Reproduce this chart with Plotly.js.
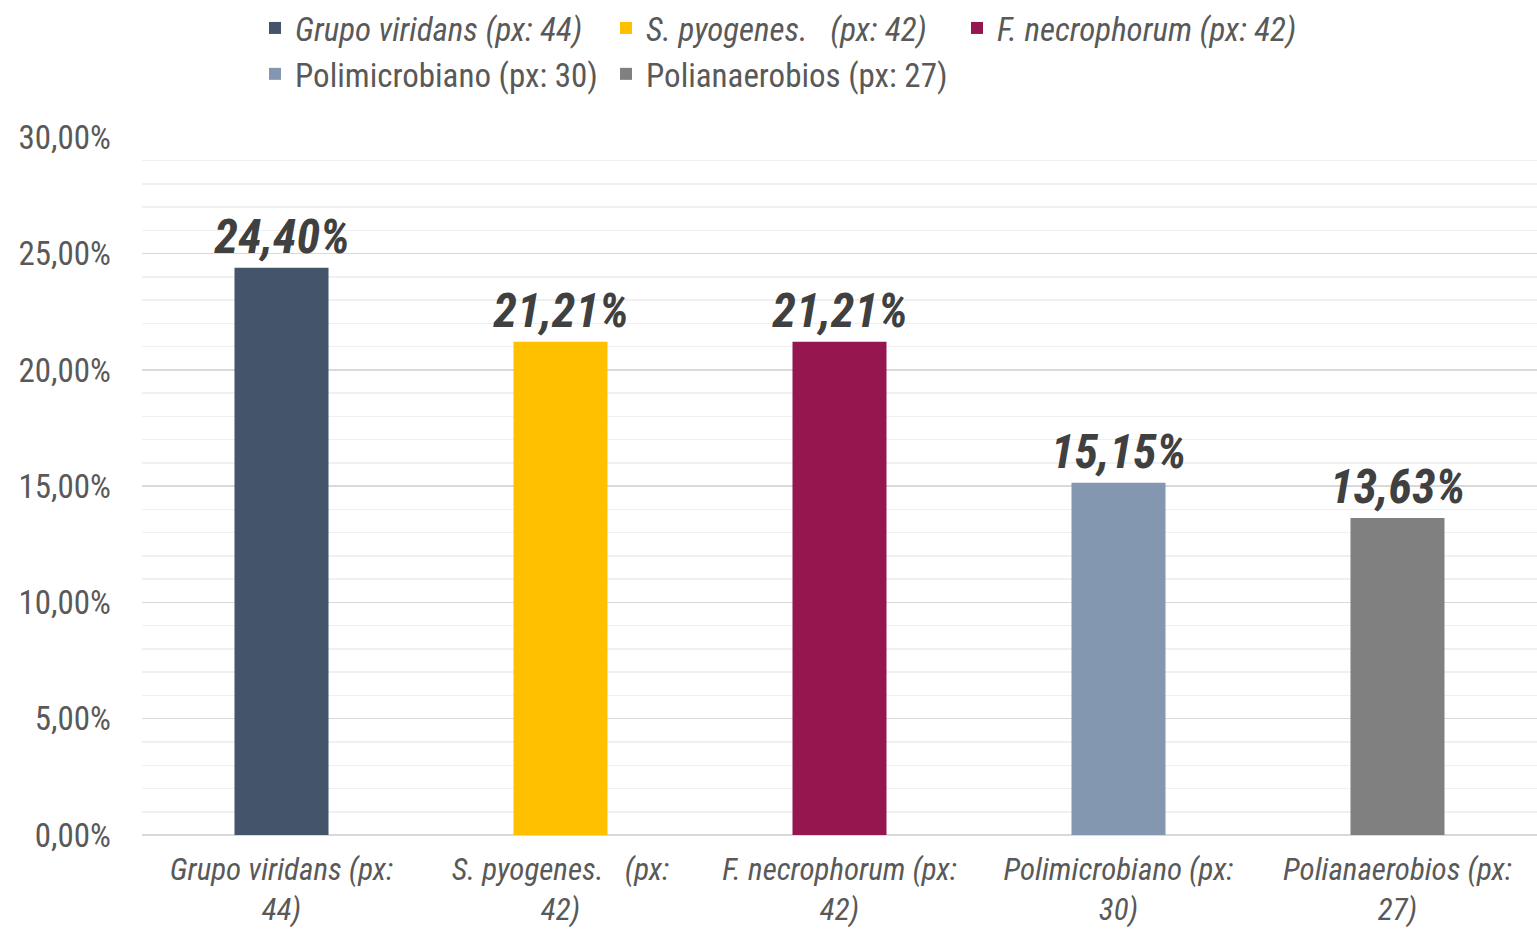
<!DOCTYPE html>
<html>
<head>
<meta charset="utf-8">
<script src="https://cdn.plot.ly/plotly-3.0.1.min.js"></script>
<style>
  html, body { margin: 0; padding: 0; background: #fff; }
  #plot { width: 1537px; height: 929px; }
</style>
</head>
<body>
<div id="plot"></div>
<script>
// categories (x labels) and legend names
var categories = [
  "<i>Grupo viridans (px:<br>44)</i>",
  "<i>S. pyogenes.\u00A0\u00A0\u00A0(px:<br>42)</i>",
  "<i>F. necrophorum (px:<br>42)</i>",
  "<i>Polimicrobiano (px:<br>30)</i>",
  "<i>Polianaerobios (px:<br>27)</i>"
];
var legendNames = [
  "<i>Grupo viridans (px: 44)</i>",
  "<i>S. pyogenes.\u00A0\u00A0\u00A0(px: 42)</i>",
  "<i>F. necrophorum (px: 42)</i>",
  "Polimicrobiano (px: 30)",
  "Polianaerobios (px: 27)"
];
var percentages = [24.40, 21.21, 21.21, 15.15, 13.63];
var labels = ["24,40%", "21,21%", "21,21%", "15,15%", "13,63%"];
var colors = ["#44546a", "#ffc000", "#961650", "#8497b0", "#808080"];

var font = "Liberation Sans Narrow, Roboto Condensed, Roboto, sans-serif";

var traces = categories.map(function(cat, i) {
  return {
    type: "bar",
    x: [cat],
    y: [percentages[i]],
    name: legendNames[i],
    width: 0.337,
    marker: { color: colors[i] },
    text: ["<b><i>" + labels[i] + "</i></b>"],
    textposition: "outside",
    constraintext: "none",
    textfont: { family: font, size: 48, color: "#404040" },
    cliponaxis: false,
    hoverinfo: "none"
  };
});

var layout = {
  width: 1537,
  height: 929,
  margin: { l: 142, r: 0, t: 137, b: 94 },
  paper_bgcolor: "#ffffff",
  plot_bgcolor: "#ffffff",
  barmode: "overlay",
  separators: ",.",
  font: { family: font, size: 33, color: "#595959" },
  showlegend: true,
  legend: {
    orientation: "h",
    x: 0.081,
    xanchor: "left",
    y: 1.0,
    yref: "container",
    yanchor: "top",
    entrywidth: 306,
    entrywidthmode: "pixels",
    itemwidth: 30,
    font: { family: font, size: 33, color: "#595959" },
    traceorder: "normal"
  },
  xaxis: {
    type: "category",
    showgrid: false,
    zeroline: false,
    showline: false,
    ticks: "",
    ticklabelstandoff: 13,
    tickfont: { family: font, size: 31, color: "#595959" }
  },
  yaxis: {
    range: [0, 30.02],
    dtick: 5,
    tick0: 0,
    tickformat: ".2f",
    ticksuffix: "%",
    showgrid: true,
    gridcolor: "#d9d9d9",
    gridwidth: 1.5,
    zeroline: true,
    zerolinecolor: "#d9d9d9",
    zerolinewidth: 1.5,
    showline: false,
    ticks: "",
    ticklabelstandoff: 30,
    tickfont: { family: font, size: 33, color: "#595959" },
    minor: { dtick: 1, showgrid: true, gridcolor: "#f0f0f0", gridwidth: 1.5 }
  }
};

Plotly.newPlot("plot", traces, layout, { displayModeBar: false, staticPlot: true });
</script>
</body>
</html>
